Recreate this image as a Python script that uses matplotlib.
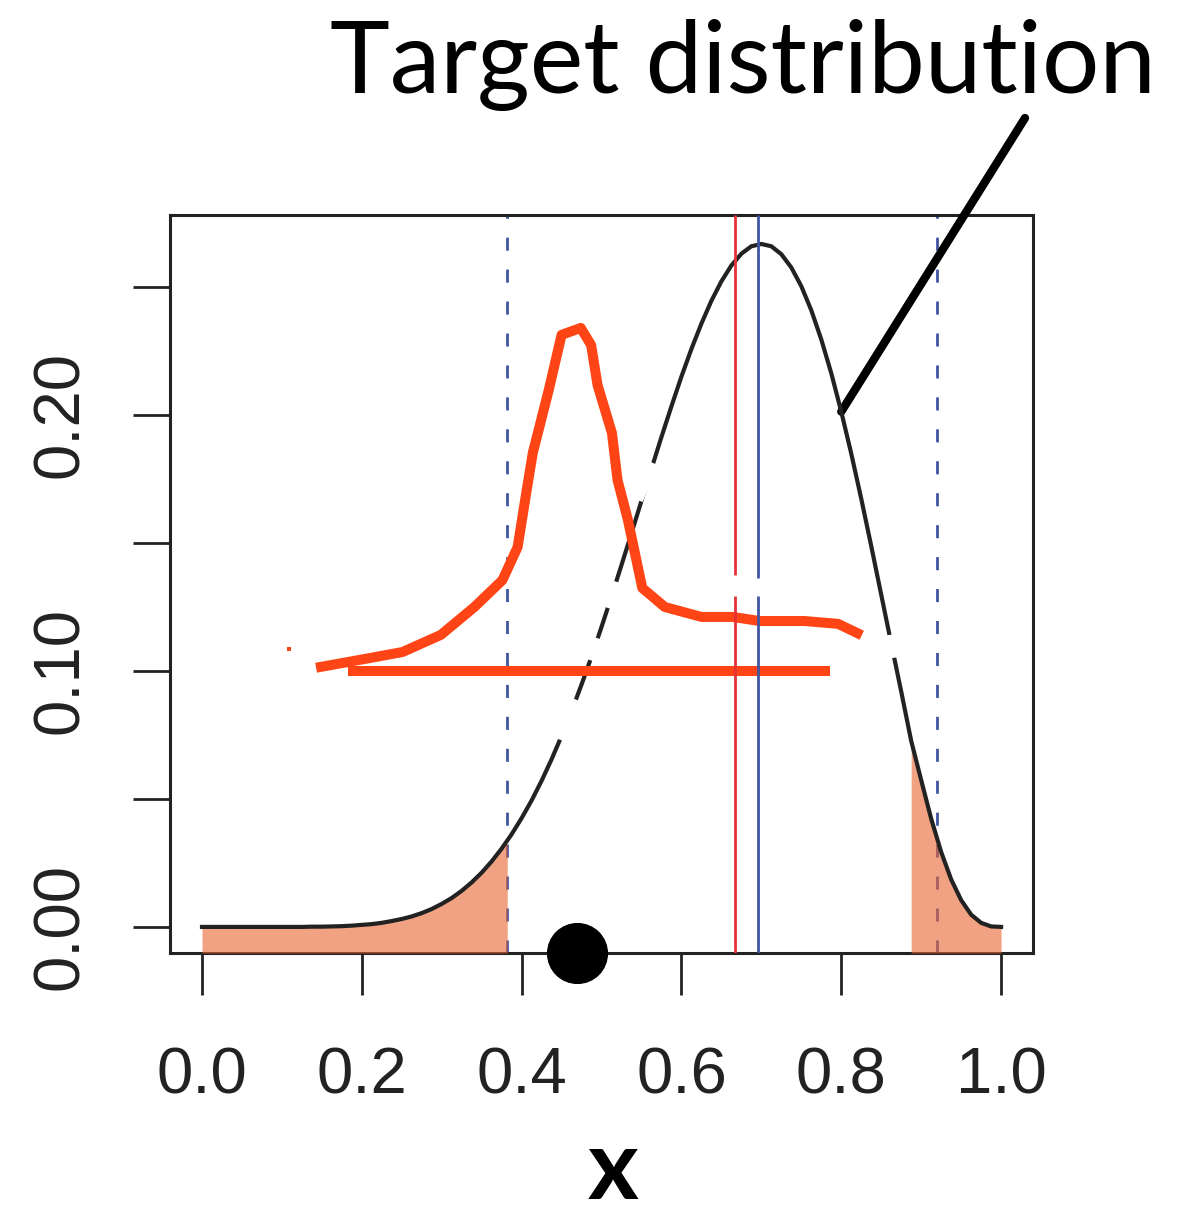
import numpy as np
import matplotlib.pyplot as plt

#### Data
# target density, sampled every 0.0125 on [0, 1]
target = [0.0000, 0.0000, 0.0000, 0.0000, 0.0000, 0.0000, 0.0000, 0.0000,  # 0.0000-0.0875
          0.0000, 0.0000, 0.0000, 0.0001, 0.0001, 0.0002, 0.0003, 0.0005,  # 0.1000-0.1875
          0.0008, 0.0011, 0.0016, 0.0023, 0.0031, 0.0041, 0.0054, 0.0070,  # 0.2000-0.2875
          0.0090, 0.0113, 0.0141, 0.0174, 0.0212, 0.0256, 0.0306, 0.0362,  # 0.3000-0.3875
          0.0425, 0.0494, 0.0571, 0.0655, 0.0746, 0.0843, 0.0947, 0.1056,  # 0.4000-0.4875
          0.1172, 0.1291, 0.1414, 0.1538, 0.1665, 0.1790, 0.1914, 0.2034,  # 0.5000-0.5875
          0.2150, 0.2258, 0.2357, 0.2446, 0.2522, 0.2584, 0.2630, 0.2659,  # 0.6000-0.6875
          0.2668, 0.2659, 0.2628, 0.2576, 0.2503, 0.2409, 0.2295, 0.2163,  # 0.7000-0.7875
          0.2013, 0.1849, 0.1673, 0.1488, 0.1298, 0.1108, 0.0920, 0.0727,  # 0.8000-0.8875
          0.0574, 0.0423, 0.0293, 0.0186, 0.0105, 0.0048, 0.0016, 0.0002,  # 0.9000-0.9875
          0.0000]                                                          # 1.0000
x_grid = np.arange(len(target)) * 0.0125

# shaded tails (cut point and curve height there)
tail_lo = (0.382, 0.0328)
tail_hi = (0.8875, 0.0727)
ci_lines = [0.382, 0.92]        # dashed blue
red_line = 0.667
blue_line = 0.696

# hand-drawn orange sketch
sketch_x = [0.149, 0.197, 0.251, 0.299, 0.341, 0.376, 0.395, 0.407, 0.414,
            0.434, 0.450, 0.474, 0.487, 0.495, 0.513, 0.520, 0.533, 0.551,
            0.579, 0.625, 0.664, 0.698, 0.754, 0.796, 0.820]
sketch_y = [0.1016, 0.1043, 0.1074, 0.1141, 0.1250, 0.1355, 0.1484, 0.1719,
            0.1852, 0.2098, 0.2313, 0.2340, 0.2273, 0.2117, 0.1930, 0.1746,
            0.1590, 0.1324, 0.1250, 0.1211, 0.1211, 0.1195, 0.1195, 0.1184,
            0.1148]
flat_x = [0.183, 0.786]
flat_y = 0.10
stray = (0.109, 0.1086)
obs_x = 0.469

# bits of the black curve that are blanked out in the picture
gaps = [((0.545, 0.1668), (0.564, 0.1813)),
        ((0.508, 0.1246), (0.519, 0.1348)),
        ((0.485, 0.1043), (0.494, 0.1129)),
        ((0.449, 0.0730), (0.469, 0.0887)),
        ((0.861, 0.1141), (0.865, 0.1051))]
vgap = (0.1293, 0.1375)

ylo, yhi = -0.0102, 0.2781
dark = '#222222'
orange = '#FF4415'

#### Figure
fig = plt.figure(figsize=(11.84, 12.17), dpi=100, facecolor='white')
ax = fig.add_axes([0.1436, 0.2169, 0.7289, 0.6064])
ax.set_xlim(-0.04, 1.04)
ax.set_ylim(ylo, yhi)
for s in ax.spines.values():
    s.set_linewidth(2.2)
    s.set_color(dark)

# dashed interval lines
for c in ci_lines:
    ax.axvline(c, color='#3F55A0', lw=2, linestyle=(0, (4.7, 6.8)), zorder=1)

# tails
lo_n = int(np.sum(x_grid <= 0.376))
lo_x = list(x_grid[:lo_n]) + [tail_lo[0]]
lo_y = target[:lo_n] + [tail_lo[1]]
hi_idx = [i for i, v in enumerate(x_grid) if v >= 0.899]
hi_x = [tail_hi[0]] + [x_grid[i] for i in hi_idx]
hi_y = [tail_hi[1]] + [target[i] for i in hi_idx]
for fx, fy in [(lo_x, lo_y), (hi_x, hi_y)]:
    ax.fill_between(fx, fy, ylo, color='#E9642F', alpha=0.6, lw=0, zorder=3)

# target curve
ax.plot(x_grid, target, color=dark, lw=3, zorder=4)
for (x1, y1), (x2, y2) in gaps:
    ax.plot([x1, x2], [y1, y2], color='white', lw=8, solid_capstyle='butt', zorder=5)

# orange sketch
ax.plot(sketch_x, sketch_y, color=orange, lw=7.2, zorder=6)
ax.plot(flat_x, [flat_y, flat_y], color=orange, lw=7.2, solid_capstyle='butt', zorder=6)
ax.plot(*stray, 's', color=orange, ms=3.5, mew=0, zorder=6)

# vertical lines
ax.vlines([red_line, red_line], [ylo, vgap[1]], [vgap[0], yhi], color='#E8323A', lw=2, zorder=7)
ax.vlines([blue_line, blue_line], [ylo, vgap[1] - 0.001], [vgap[0], yhi], color='#3F55A0', lw=2, zorder=7)

# observed point
ax.plot(obs_x, ylo, 'o', color='black', ms=43, clip_on=False, zorder=10)

#### Axes labels
ax.set_xticks([0, 0.2, 0.4, 0.6, 0.8, 1.0])
ax.set_xticklabels(['0.0', '0.2', '0.4', '0.6', '0.8', '1.0'], family='Liberation Sans')
ax.set_yticks([0, 0.05, 0.10, 0.15, 0.20, 0.25])
ax.set_yticklabels(['0.00', '', '0.10', '', '0.20', ''], rotation=90, va='center',
                   family='Liberation Sans')
ax.tick_params(axis='x', length=30, width=2, pad=37, labelsize=47, colors=dark)
ax.tick_params(axis='y', length=27, width=2, pad=30, labelsize=47, colors=dark)

fig.text(330 / 1184, 1 - 93 / 1217, 'Target distribution', family='Lato',
         fontsize=73, ha='left', va='baseline')
fig.text(613 / 1184, 0.002, 'x', family='Lato', fontweight='bold',
         fontsize=70, ha='center', va='bottom')

# pointer from the title to the curve
ax.annotate('', xy=(0.80, 0.2013), xycoords='data',
            xytext=(1025 / 1184, 1 - 118 / 1217), textcoords='figure fraction',
            arrowprops=dict(arrowstyle='-', lw=6, color='black', shrinkA=0, shrinkB=0))

plt.savefig('out.png', dpi=100, facecolor='white')
